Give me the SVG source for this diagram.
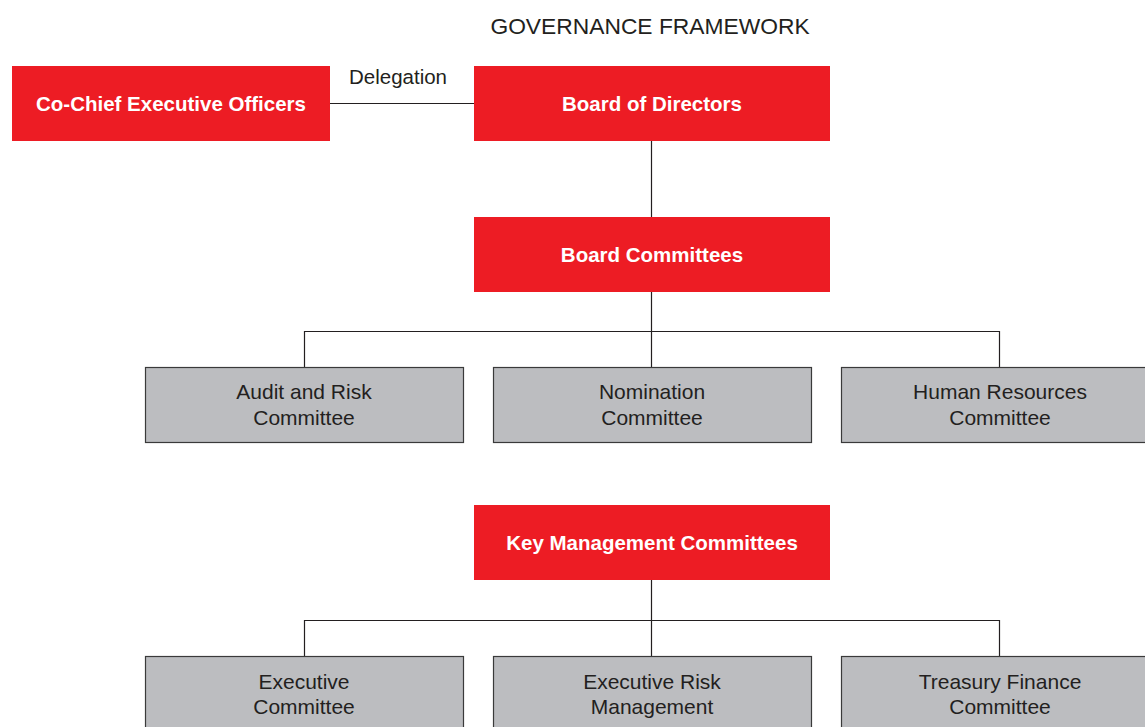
<svg xmlns="http://www.w3.org/2000/svg" width="1145" height="727" viewBox="0 0 1145 727">
<style>
.red{fill:#ED1C24}
.gray{fill:#BCBDC0;stroke:#3a3a3a;stroke-width:1.2}
.wt{font-family:"Liberation Sans",Arial,sans-serif;font-size:20.5px;font-weight:bold;fill:#fff;text-anchor:middle}
.gt{font-family:"Liberation Sans",Arial,sans-serif;font-size:21px;fill:#231f20;text-anchor:middle}
.conn{fill:none;stroke:#231f20;stroke-width:1.2}
</style>
<rect width="1145" height="727" fill="#fff"/>
<text x="650" y="34" font-family="Liberation Sans, Arial, sans-serif" font-size="22.8" fill="#231f20" text-anchor="middle">GOVERNANCE FRAMEWORK</text>
<g id="connectors">
<path class="conn" d="M330 103.5H474"/>
<path class="conn" d="M651.5 141V217"/>
<path class="conn" d="M651.5 292V367M304.5 367V331.5H999.5V367"/>
<path class="conn" d="M651.5 580V656M304.5 656V620.5H999.5V656"/>
</g>
<text x="398" y="84" font-family="Liberation Sans, Arial, sans-serif" font-size="20.5" fill="#231f20" text-anchor="middle">Delegation</text>
<g id="ceo"><rect class="red" x="12" y="66" width="318" height="75"/><text class="wt" x="171" y="111">Co-Chief Executive Officers</text></g>
<g id="board"><rect class="red" x="474" y="66" width="356" height="75"/><text class="wt" x="652" y="111">Board of Directors</text></g>
<g id="boardcomm"><rect class="red" x="474" y="217" width="356" height="75"/><text class="wt" x="652" y="262">Board Committees</text></g>
<g id="audit"><rect class="gray" x="145.5" y="367.5" width="318" height="75"/><text class="gt" x="304" y="399">Audit and Risk</text><text class="gt" x="304" y="425">Committee</text></g>
<g id="nomination"><rect class="gray" x="493.5" y="367.5" width="318" height="75"/><text class="gt" x="652" y="399">Nomination</text><text class="gt" x="652" y="425">Committee</text></g>
<g id="hr"><rect class="gray" x="841.5" y="367.5" width="318" height="75"/><text class="gt" x="1000" y="399">Human Resources</text><text class="gt" x="1000" y="425">Committee</text></g>
<g id="keymgmt"><rect class="red" x="474" y="505" width="356" height="75"/><text class="wt" x="652" y="550">Key Management Committees</text></g>
<g id="exec"><rect class="gray" x="145.5" y="656.5" width="318" height="75"/><text class="gt" x="304" y="689">Executive</text><text class="gt" x="304" y="714">Committee</text></g>
<g id="execrisk"><rect class="gray" x="493.5" y="656.5" width="318" height="75"/><text class="gt" x="652" y="689">Executive Risk</text><text class="gt" x="652" y="714">Management</text></g>
<g id="treasury"><rect class="gray" x="841.5" y="656.5" width="318" height="75"/><text class="gt" x="1000" y="689">Treasury Finance</text><text class="gt" x="1000" y="714">Committee</text></g>
</svg>
